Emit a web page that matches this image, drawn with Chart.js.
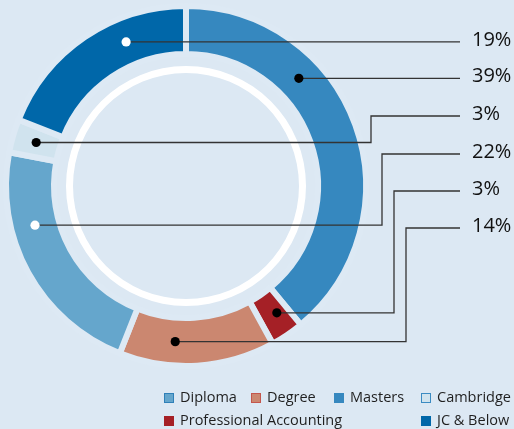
<!DOCTYPE html>
<html>
<head>
<meta charset="utf-8">
<script src="https://cdn.jsdelivr.net/npm/chart.js@4/dist/chart.umd.min.js"></script>
<style>
  html, body { margin: 0; padding: 0; background: #dce8f3; }
  #wrap { position: relative; width: 514px; height: 429px; overflow: hidden; background: #dce8f3; }
  #c { position: absolute; left: 0; top: 0; }
  .lg { position: absolute; font-family: "Open Sans", sans-serif; font-size: 14.5px; color: #1f1f1f; line-height: 18px; white-space: nowrap; }
  .lg i { position: absolute; left: 0; top: 4px; width: 8px; height: 8px; border: 1px solid; }
  .lg span { position: absolute; left: 16px; top: -1px; }
</style>
</head>
<body>
<div id="wrap">
  <canvas id="c" width="514" height="429"></canvas>
</div>
<script>
// ---- data (drawing order, clockwise from 12 o'clock) ----
const categories = ['Masters', 'Professional Accounting', 'Degree', 'Diploma', 'Cambridge', 'JC & Below'];
const values = [39, 3, 14, 22, 3, 19];
const colors = ['#3688bf', '#a52026', '#cb8770', '#65a6cc', '#d0e3ee', '#0067a9'];
const borderShades = ['#3688bf', '#a52026', '#c4564c', '#2f80b8', '#3b8bc2', '#0067a9'];
const legendOrder = ['Diploma', 'Degree', 'Masters', 'Cambridge', 'Professional Accounting', 'JC & Below'];

// ---- layout / style (not data) ----
const dotFrac   = [0.33, 0.37, 0.65, 0.68, 0.5, 0.67];
const dotFill   = ['#000', '#000', '#000', '#fff', '#000', '#fff'];
const labelRowY = [null, 191, 228, 154, 116, null];   // null = straight line at dot height
const elbowX    = [null, 394, 406, 382, 371, null];
const lineEndX = 460, labelX = 472;
const legendPos = [[164, 389], [251, 389], [334, 389], [421, 389], [164, 412], [421, 412]];

const leaderPlugin = {
  id: 'leaders',
  afterDatasetsDraw(chart) {
    const ctx = chart.ctx;
    const meta = chart.getDatasetMeta(0);
    const pts = meta.data.map((arc, i) => {
      const p = arc.getProps(['x', 'y', 'startAngle', 'endAngle', 'innerRadius', 'outerRadius'], true);
      const a = p.startAngle + dotFrac[i] * (p.endAngle - p.startAngle);
      const r = (p.innerRadius + p.outerRadius) / 2;
      return { x: p.x + r * Math.cos(a), y: p.y + r * Math.sin(a) };
    });
    ctx.save();
    ctx.strokeStyle = '#333';
    ctx.lineWidth = 1.3;
    pts.forEach((pt, i) => {
      const ly = labelRowY[i] == null ? pt.y : labelRowY[i];
      ctx.beginPath();
      ctx.moveTo(pt.x, pt.y);
      if (elbowX[i] != null) {
        ctx.lineTo(elbowX[i], pt.y);
        ctx.lineTo(elbowX[i], ly);
      }
      ctx.lineTo(lineEndX, ly);
      ctx.stroke();
      ctx.fillStyle = '#111';
      ctx.font = '20px "Open Sans", sans-serif';
      ctx.textBaseline = 'middle';
      ctx.textAlign = 'left';
      ctx.fillText(values[i] + '%', labelX, ly - 1.5);
    });
    pts.forEach((pt, i) => {
      ctx.beginPath();
      ctx.arc(pt.x, pt.y, 4.6, 0, Math.PI * 2);
      ctx.fillStyle = dotFill[i];
      ctx.fill();
    });
    ctx.restore();
  }
};

new Chart(document.getElementById('c'), {
  type: 'doughnut',
  data: {
    labels: categories,
    datasets: [
      { data: values, backgroundColor: colors, borderColor: '#dde9f4', borderWidth: 6, borderAlign: 'center', weight: 48 },
      { data: [1], backgroundColor: 'rgba(0,0,0,0)', borderWidth: 0, weight: 12 },
      { data: [1], backgroundColor: '#ffffff', borderWidth: 0, weight: 7 }
    ]
  },
  options: {
    responsive: false,
    animation: false,
    radius: 180,
    cutout: (113 / 180 * 100) + '%',
    layout: { padding: { left: 9, top: 9, right: 151, bottom: 66 } },
    plugins: { legend: { display: false }, tooltip: { enabled: false } },
    events: []
  },
  plugins: [leaderPlugin]
});

// HTML legend built from the arrays
const wrap = document.getElementById('wrap');
legendOrder.forEach((name, k) => {
  const i = categories.indexOf(name);
  const d = document.createElement('div');
  d.className = 'lg';
  d.style.left = legendPos[k][0] + 'px';
  d.style.top = legendPos[k][1] + 'px';
  const box = document.createElement('i');
  box.style.background = colors[i];
  box.style.borderColor = borderShades[i];
  const t = document.createElement('span');
  t.textContent = name;
  d.appendChild(box);
  d.appendChild(t);
  wrap.appendChild(d);
});
</script>
</body>
</html>
